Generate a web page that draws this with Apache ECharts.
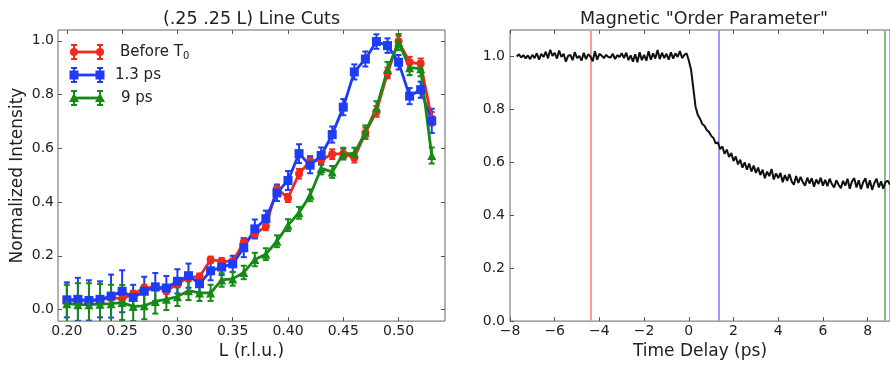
<!DOCTYPE html>
<html>
<head>
<meta charset="utf-8">
<script src="https://cdn.jsdelivr.net/npm/echarts@6/dist/echarts.min.js"></script>
<style>
  html, body { margin: 0; padding: 0; background: #fff; }
  #chart { width: 890px; height: 365px; }
</style>
</head>
<body>
<div id="chart"></div>
<script>
// left panel: line cuts along L
const L = [0.20,0.21,0.22,0.23,0.24,0.25,0.26,0.27,0.28,0.29,0.30,0.31,0.32,0.33,0.34,0.35,0.36,0.37,0.38,0.39,0.40,0.41,0.42,0.43,0.44,0.45,0.46,0.47,0.48,0.49,0.50,0.51,0.52,0.53];
const beforeT0 = [0.030,0.034,0.030,0.036,0.045,0.040,0.058,0.080,0.084,0.070,0.095,0.120,0.122,0.185,0.180,0.178,0.250,0.280,0.310,0.450,0.415,0.505,0.553,0.556,0.578,0.580,0.565,0.657,0.737,0.880,0.998,0.920,0.914,0.710];
const beforeT0Err = [0.012,0.012,0.012,0.012,0.012,0.012,0.012,0.012,0.012,0.012,0.012,0.012,0.012,0.012,0.012,0.012,0.015,0.015,0.015,0.015,0.015,0.018,0.018,0.018,0.018,0.018,0.018,0.020,0.020,0.020,0.020,0.020,0.020,0.025];
const ps13 = [0.036,0.038,0.034,0.038,0.050,0.068,0.045,0.068,0.084,0.080,0.105,0.126,0.096,0.144,0.158,0.170,0.230,0.300,0.338,0.434,0.480,0.580,0.537,0.573,0.651,0.753,0.884,0.932,0.997,0.982,0.920,0.794,0.818,0.702];
const ps13Err = [0.065,0.080,0.075,0.067,0.080,0.078,0.047,0.054,0.052,0.045,0.045,0.045,0.035,0.035,0.030,0.030,0.035,0.035,0.030,0.030,0.035,0.035,0.030,0.030,0.030,0.030,0.028,0.028,0.027,0.027,0.027,0.030,0.030,0.045];
const ps9 = [0.022,0.018,0.018,0.020,0.022,0.026,0.012,0.014,0.030,0.038,0.048,0.070,0.062,0.062,0.110,0.114,0.138,0.186,0.206,0.254,0.314,0.360,0.425,0.525,0.512,0.580,0.580,0.660,0.750,0.893,0.995,0.900,0.896,0.573];
const ps9Err = [0.070,0.080,0.080,0.075,0.070,0.065,0.055,0.050,0.045,0.040,0.035,0.035,0.030,0.030,0.025,0.025,0.025,0.025,0.022,0.022,0.022,0.022,0.022,0.022,0.022,0.022,0.022,0.025,0.025,0.028,0.030,0.028,0.028,0.030];

const lTicks = [0.20,0.25,0.30,0.35,0.40,0.45,0.50];
const yTicks = [0.0,0.2,0.4,0.6,0.8,1.0];

// right panel: order parameter vs time delay, sampled every 0.1 ps from -7.7 ps
const tStart = -7.7;
const tStep = 0.1;
const orderParam = [
  1.000,1.008,0.996,1.005,0.993,1.004,0.990,1.006,
  0.994,1.012,0.988,1.010,0.998,1.018,0.993,1.025,1.002,1.014,
  0.992,1.022,0.998,1.010,0.980,1.002,1.006,0.986,1.016,0.994,
  1.002,0.984,1.014,0.990,1.008,1.000,0.982,1.020,0.988,1.010,
  1.003,0.994,1.006,0.998,0.996,1.010,0.990,1.005,0.998,1.012,
  0.994,1.014,0.986,1.004,0.980,1.008,0.978,1.016,0.986,1.006,
  0.984,1.020,0.988,1.012,0.992,1.024,0.990,1.014,0.994,1.010,
  0.988,1.016,0.992,1.012,0.998,1.020,0.994,1.006,1.012,0.985,
  0.950,0.880,0.810,0.780,0.765,0.745,0.738,0.722,0.715,0.700,
  0.692,0.672,0.675,0.650,0.660,0.632,0.648,0.620,0.635,
  0.605,0.622,0.592,0.610,0.580,0.600,0.572,0.595,0.565,0.588,
  0.560,0.580,0.552,0.572,0.540,0.565,0.548,0.575,0.535,0.558,
  0.540,0.560,0.525,0.552,0.530,0.556,0.528,0.515,0.548,0.522,
  0.545,0.525,0.512,0.542,0.520,0.540,0.508,0.535,0.518,0.542,
  0.512,0.534,0.510,0.538,0.518,0.505,0.532,0.515,0.502,0.530,
  0.512,0.538,0.500,0.528,0.540,0.505,0.532,0.498,0.525,0.540,
  0.502,0.532,0.496,0.522,0.538,0.505,0.528,0.500,0.526,0.530,
  0.515
];
const cutTimes = [-4.37, 1.33, 8.77];
const cutColors = ['#ff9a9a', '#9a9aff', '#7fbf7f'];
const tTicks = [-8,-6,-4,-2,0,2,4,6,8];

const FONT = 'DejaVu Sans';
const tickColor = '#555';
const RED = '#f22a1e', BLUE = '#1f3cf5', GREEN = '#168a16';

function valueAxis(o) {
  return Object.assign({
    type: 'value',
    axisLine: { show: false, onZero: false },
    splitLine: { show: false },
    axisTick: { show: true, inside: true, length: 4, lineStyle: { color: tickColor, width: 1 } },
    axisLabel: { show: false, color: '#222', fontFamily: FONT, fontSize: 14 }
  }, o);
}

function withTicks(ax, vals, fmt, margin) {
  ax.axisTick.customValues = vals;
  ax.axisLabel = Object.assign({}, ax.axisLabel, { customValues: vals });
  if (fmt) {
    ax.axisLabel.show = true;
    ax.axisLabel.formatter = fmt;
    ax.axisLabel.margin = margin;
  }
  return ax;
}

const f1 = v => Number(v).toFixed(1);
const f2 = v => Number(v).toFixed(2);
const fT = v => (v < 0 ? '\u2212' + Math.abs(v) : String(v));

const lRange = { min: 0.192, max: 0.542 };
const iRange = { min: -0.043, max: 1.04 };
const tRange = { min: -8, max: 9 };
const oRange = { min: 0, max: 1.1 };
const nameStyle = { fontFamily: FONT, fontSize: 17, color: '#222' };

const xAxes = [
  withTicks(valueAxis(Object.assign({ gridIndex: 0, position: 'bottom',
    name: 'L (r.l.u.)', nameLocation: 'middle', nameGap: 15, nameTextStyle: nameStyle }, lRange)), lTicks, f2, 3),
  withTicks(valueAxis(Object.assign({ gridIndex: 0, position: 'top' }, lRange)), lTicks),
  withTicks(valueAxis(Object.assign({ gridIndex: 1, position: 'bottom',
    name: 'Time Delay (ps)', nameLocation: 'middle', nameGap: 15, nameTextStyle: nameStyle }, tRange)), tTicks, fT, 3),
  withTicks(valueAxis(Object.assign({ gridIndex: 1, position: 'top' }, tRange)), tTicks)
];
const yAxes = [
  withTicks(valueAxis(Object.assign({ gridIndex: 0, position: 'left',
    name: 'Normalized Intensity', nameLocation: 'middle', nameGap: 32, nameTextStyle: nameStyle }, iRange)), yTicks, f1, 4),
  withTicks(valueAxis(Object.assign({ gridIndex: 0, position: 'right' }, iRange)), yTicks),
  withTicks(valueAxis(Object.assign({ gridIndex: 1, position: 'left' }, oRange)), yTicks, f1, 5)
];

function errorBars(vals, errs, color) {
  return {
    type: 'custom',
    xAxisIndex: 0, yAxisIndex: 0,
    clip: true,
    silent: true,
    data: L.map((x, i) => [x, vals[i], errs[i]]),
    renderItem: (params, api) => {
      const x = api.value(0), y = api.value(1), e = api.value(2);
      const a = api.coord([x, y + e]);
      const b = api.coord([x, y - e]);
      const w = 3;
      const st = { stroke: color, lineWidth: 2 };
      return {
        type: 'group',
        children: [
          { type: 'line', shape: { x1: a[0], y1: a[1], x2: b[0], y2: b[1] }, style: st },
          { type: 'line', shape: { x1: a[0] - w, y1: a[1], x2: a[0] + w, y2: a[1] }, style: st },
          { type: 'line', shape: { x1: b[0] - w, y1: b[1], x2: b[0] + w, y2: b[1] }, style: st }
        ]
      };
    }
  };
}

function cutLine(vals, color, symbol, size) {
  return {
    type: 'line',
    xAxisIndex: 0, yAxisIndex: 0,
    data: L.map((x, i) => [x, vals[i]]),
    symbol: symbol, symbolSize: size, showSymbol: true,
    lineStyle: { color: color, width: 2.8 },
    itemStyle: { color: color, borderWidth: 0 },
    silent: true
  };
}

const timeData = orderParam.map((v, i) => [tStart + i * tStep, v]);

// legend drawn by hand so the errorbar glyph looks like matplotlib's
const legendRows = [
  { y: 52, color: RED, shape: 'circle', text: 'Before T{s|0}', x: 120 },
  { y: 75, color: BLUE, shape: 'rect', text: '1.3 ps', x: 115 },
  { y: 98, color: GREEN, shape: 'tri', text: '9 ps', x: 121 }
];
const legendGraphics = [];
legendRows.forEach(r => {
  const st = { stroke: r.color, lineWidth: 2 };
  legendGraphics.push({ type: 'line', shape: { x1: 74, y1: r.y, x2: 100, y2: r.y }, style: { stroke: r.color, lineWidth: 2.8 } });
  [74, 100].forEach(px => {
    legendGraphics.push({ type: 'line', shape: { x1: px, y1: r.y - 7, x2: px, y2: r.y + 7 }, style: st });
    legendGraphics.push({ type: 'line', shape: { x1: px - 3, y1: r.y - 7, x2: px + 3, y2: r.y - 7 }, style: st });
    legendGraphics.push({ type: 'line', shape: { x1: px - 3, y1: r.y + 7, x2: px + 3, y2: r.y + 7 }, style: st });
    if (r.shape === 'circle') {
      legendGraphics.push({ type: 'circle', shape: { cx: px, cy: r.y, r: 4 }, style: { fill: r.color } });
    } else if (r.shape === 'rect') {
      legendGraphics.push({ type: 'rect', shape: { x: px - 4.5, y: r.y - 4.5, width: 9, height: 9 }, style: { fill: r.color } });
    } else {
      legendGraphics.push({ type: 'polygon', shape: { points: [[px, r.y - 5], [px + 5, r.y + 4], [px - 5, r.y + 4]] }, style: { fill: r.color } });
    }
  });
  legendGraphics.push({
    type: 'text', x: r.x, y: r.y,
    style: {
      text: r.text, fontFamily: FONT, fontSize: 15, fill: '#222', verticalAlign: 'middle',
      rich: { s: { fontFamily: FONT, fontSize: 10, fill: '#222', verticalAlign: 'bottom', padding: [8, 0, 0, 0] } }
    }
  });
});

const titles = [
  { type: 'text', x: 251.5, y: 19, style: { text: '(.25 .25 L) Line Cuts', fontFamily: FONT, fontSize: 17.5, fill: '#222', align: 'center', verticalAlign: 'middle' } },
  { type: 'text', x: 704, y: 19, style: { text: 'Magnetic "Order Parameter"', fontFamily: FONT, fontSize: 17.5, fill: '#222', align: 'center', verticalAlign: 'middle' } }
];

const chart = echarts.init(document.getElementById('chart'), null, { renderer: 'canvas' });
chart.setOption({
  animation: false,
  backgroundColor: '#fff',
  grid: [
    { left: 58, top: 30, width: 387, height: 302, show: true, borderColor: '#666', borderWidth: 1, backgroundColor: 'transparent' },
    { left: 510, top: 30, width: 381, height: 302, show: true, borderColor: '#666', borderWidth: 1, backgroundColor: 'transparent' }
  ],
  xAxis: xAxes,
  yAxis: yAxes,
  graphic: titles.concat(legendGraphics),
  series: [
    errorBars(beforeT0, beforeT0Err, RED),
    cutLine(beforeT0, RED, 'circle', 8),
    errorBars(ps13, ps13Err, BLUE),
    cutLine(ps13, BLUE, 'rect', 9),
    errorBars(ps9, ps9Err, GREEN),
    cutLine(ps9, GREEN, 'triangle', 9),
    {
      // vertical markers for the three delays, kept under the trace
      type: 'line',
      xAxisIndex: 2, yAxisIndex: 2,
      data: [],
      z: 1,
      silent: true,
      markLine: {
        z: 1,
        silent: true,
        symbol: ['none', 'none'],
        label: { show: false },
        data: cutTimes.map((t, i) => ({ xAxis: t, lineStyle: { color: cutColors[i], width: 2, type: 'solid' } }))
      }
    },
    {
      type: 'line',
      xAxisIndex: 2, yAxisIndex: 2,
      data: timeData,
      showSymbol: false,
      lineStyle: { color: '#111', width: 2 },
      silent: true,
      z: 3
    }
  ]
});
</script>
</body>
</html>
